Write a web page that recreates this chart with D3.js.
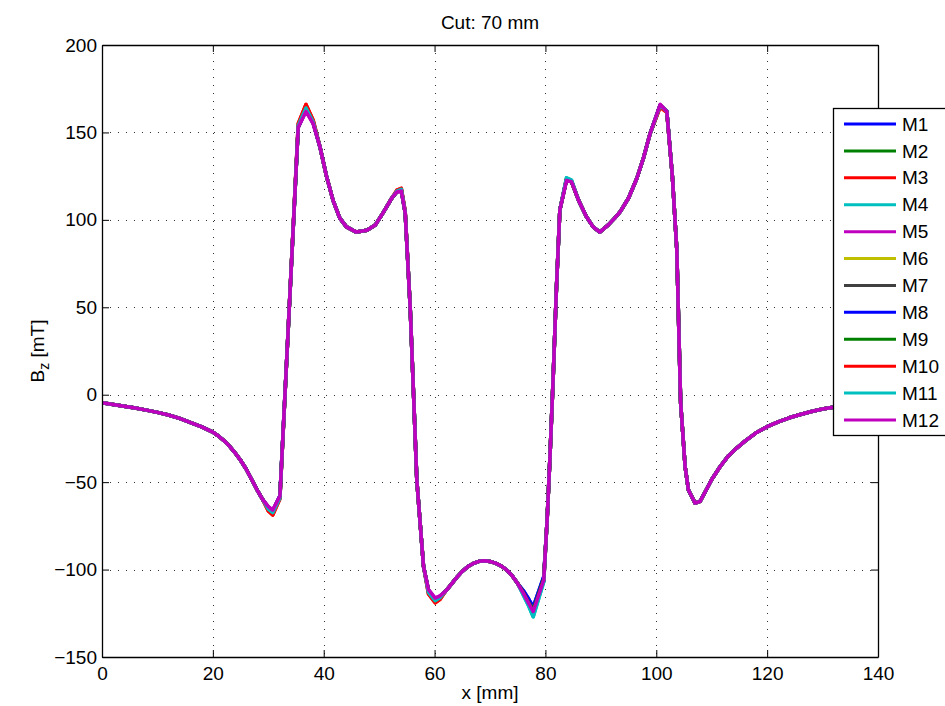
<!DOCTYPE html>
<html>
<head>
<meta charset="utf-8">
<script src="https://cdn.jsdelivr.net/npm/d3@7"></script>
<style>
  html, body { margin: 0; padding: 0; background: #fff; }
  svg { display: block; font-family: "Liberation Sans", Arial, Helvetica, sans-serif; }
</style>
</head>
<body>
<svg id="chart" width="945" height="706"></svg>
<script>
// ---------- data ----------
const titleText = "Cut: 70 mm";
const xLabel = "x [mm]";
const xTicks = [0, 20, 40, 60, 80, 100, 120, 140];
const yTicks = [-150, -100, -50, 0, 50, 100, 150, 200];
const seriesNames = ["M1","M2","M3","M4","M5","M6","M7","M8","M9","M10","M11","M12"];
const seriesColors = ["#0000ff","#008000","#ff0000","#00bfbf","#bf00bf","#bfbf00","#404040","#0000ff","#008000","#ff0000","#00bfbf","#bf00bf"];

const xMm = [0,2,4,6,8,10,12,14,16,18,20,21,22,23,24,25,26,27,28,29,30,30.8,32.1,35.4,36.8,38.1,39.3,40.5,41.7,42.9,44.1,45.9,47.8,49.3,50.7,52.3,53.2,54,54.7,55.6,56.2,56.8,58,58.9,60.1,61,62,63,64,65,66,67,68,69,70,71,72,73,74,75,76,77,77.8,79.7,80.3,80.8,81.4,82,82.6,83.8,84.7,86,87.4,88.6,89.8,91.3,92.5,93.5,95,96.5,97.7,98.9,100.7,101.9,102.9,103.7,104.4,105.2,105.8,107,107.9,109,110,111.5,113,114.5,116,118,120,122,124,126,128,130,133,136,140];

const M1  = [-4.6,-5.6,-6.6,-7.6,-8.8,-10.1,-11.6,-13.5,-15.9,-18.4,-21.4,-23.6,-26.2,-29.4,-33.2,-37.5,-42.5,-48.5,-54.5,-60,-64.5,-66.5,-58,153,163,155.5,142,125,111,101,96,93,94,97,104,112.5,116,117,104,50,1,-49,-98,-112,-117,-115.5,-112.3,-108.5,-104.5,-101,-98.3,-96.5,-95.3,-95,-95.4,-96.3,-97.9,-100.2,-103.5,-108,-112,-117,-121.5,-104,-72,-37,10,62,105.6,123,121.8,111,101.8,96,93,97,101,104.7,112.5,123.8,135.5,149.5,165.5,162,125,83,-5,-41,-54.5,-62,-61,-54.5,-48.5,-41.2,-35,-30.5,-26.5,-21.8,-18.3,-15.5,-13.2,-11.3,-9.6,-8.2,-6.6,-5.4,-4.2];
const M2  = [-4.6,-5.6,-6.6,-7.6,-8.8,-10.1,-11.6,-13.5,-15.9,-18.4,-21.4,-23.6,-26.2,-29.4,-33.2,-37.5,-42.5,-48.5,-54.5,-60,-65,-67,-58.5,153,164,156,142,125,111,101,96,93,94,97,104,112.5,116,117,104,50,1,-49,-98,-112,-117.5,-116,-112.3,-108.5,-104.5,-101,-98.3,-96.5,-95.3,-95,-95.4,-96.3,-97.9,-100.2,-103.5,-108,-113,-119,-123,-105,-72,-37,10,62,105.6,123,121.8,111,101.8,96,93,97,101,104.7,112.5,123.8,135.5,149.5,165.5,162,125,83,-5,-41,-54.5,-62,-61,-54.5,-48.5,-41.2,-35,-30.5,-26.5,-21.8,-18.3,-15.5,-13.2,-11.3,-9.6,-8.2,-6.6,-5.4,-4.2];
const M3  = [-4.6,-5.6,-6.6,-7.6,-8.8,-10.1,-11.6,-13.5,-15.9,-18.4,-21.4,-23.6,-26.2,-29.4,-33.2,-37.5,-42.5,-48.5,-54.5,-60,-66.5,-68.8,-59.5,155,166,157,142,125,111,101,96,93,94,97,104,112.5,117,118,105,50,1,-49,-98,-114,-119,-117,-112.3,-108.5,-104.5,-101,-98.3,-96.5,-95.3,-95,-95.4,-96.3,-97.9,-100.2,-103.5,-108,-113.5,-119.5,-124.5,-106,-72,-37,10,62,105.6,123.5,122.3,111,101.8,96,93,97,101,104.7,112.5,123.8,135.5,149.5,164.5,161.5,125,83,-5,-41,-54.5,-62,-61,-54.5,-48.5,-41.2,-35,-30.5,-26.5,-21.8,-18.3,-15.5,-13.2,-11.3,-9.6,-8.2,-6.6,-5.4,-4.2];
const M4  = [-4.6,-5.6,-6.6,-7.6,-8.8,-10.1,-11.6,-13.5,-15.9,-18.4,-21.4,-23.6,-26.2,-29.4,-33.2,-37.5,-42.5,-48.5,-54.5,-60,-65.5,-67.5,-59,154,164,156,142,125,111,101,96,93,94,97,104,112.5,116.5,117.5,104.5,50,1,-49,-98,-113,-117.8,-116,-112.3,-108.5,-104.5,-101,-98.3,-96.5,-95.3,-95,-95.4,-96.3,-97.9,-100.2,-103.5,-108,-114.5,-121,-127,-107,-72,-37,10,62,105.6,124,122.8,111,101.8,96,93,97,101,104.7,112.5,123.8,135.5,149.5,165.5,162,125,83,-5,-41,-54.5,-62,-61,-54.5,-48.5,-41.2,-35,-30.5,-26.5,-21.8,-18.3,-15.5,-13.2,-11.3,-9.6,-8.2,-6.6,-5.4,-4.2];
const M5  = [-4.6,-5.6,-6.6,-7.6,-8.8,-10.1,-11.6,-13.5,-15.9,-18.4,-21.4,-23.6,-26.2,-29.4,-33.2,-37.5,-42.5,-48.5,-54.5,-60,-64,-66,-58,153,162,155,142,125,111,101,96,93,94,97,104,112.5,116,116.5,104,50,1,-49,-98,-111.5,-116.3,-115,-112.3,-108.5,-104.5,-101,-98.3,-96.5,-95.3,-95,-95.4,-96.3,-97.9,-100.2,-103.5,-108,-113.5,-119.5,-124,-106,-72,-37,10,62,105.6,122.5,121.8,111,101.8,96,93,97,101,104.7,112.5,123.8,135.5,149.5,166,162,125,83,-5,-41,-54.5,-62,-61,-54.5,-48.5,-41.2,-35,-30.5,-26.5,-21.8,-18.3,-15.5,-13.2,-11.3,-9.6,-8.2,-6.6,-5.4,-4.2];
const M6  = [-4.6,-5.6,-6.6,-7.6,-8.8,-10.1,-11.6,-13.5,-15.9,-18.4,-21.4,-23.6,-26.2,-29.4,-33.2,-37.5,-42.5,-48.5,-54.5,-60,-64.5,-66.8,-58.5,153,163.5,155.5,142,125,111,101,96,93,94,97,104,112.5,116,117,104,50,1,-49,-98,-112,-117,-115.5,-112.3,-108.5,-104.5,-101,-98.3,-96.5,-95.3,-95,-95.4,-96.3,-97.9,-100.2,-103.5,-108,-113,-119,-123.5,-105.5,-72,-37,10,62,105.6,123,121.8,111,101.8,96,93,97,101,104.7,112.5,123.8,135.5,149.5,165.5,162,125,83,-5,-41,-54.5,-62,-61,-54.5,-48.5,-41.2,-35,-30.5,-26.5,-21.8,-18.3,-15.5,-13.2,-11.3,-9.6,-8.2,-6.6,-5.4,-4.2];
const M7  = [-4.6,-5.6,-6.6,-7.6,-8.8,-10.1,-11.6,-13.5,-15.9,-18.4,-21.4,-23.6,-26.2,-29.4,-33.2,-37.5,-42.5,-48.5,-54.5,-60,-64.5,-66.5,-58,153,163,155.5,142,125,111,101,96,93,94,97,104,112.5,116,117,104,50,1,-49,-98,-112,-117,-115.5,-112.3,-108.5,-104.5,-101,-98.3,-96.5,-95.3,-95,-95.4,-96.3,-97.9,-100.2,-103.5,-108,-113,-119,-123,-105,-72,-37,10,62,105.6,123,121.8,111,101.8,96,93,97,101,104.7,112.5,123.8,135.5,149.5,165.5,162,125,83,-5,-41,-54.5,-62,-61,-54.5,-48.5,-41.2,-35,-30.5,-26.5,-21.8,-18.3,-15.5,-13.2,-11.3,-9.6,-8.2,-6.6,-5.4,-4.2];
const M8  = [-4.6,-5.6,-6.6,-7.6,-8.8,-10.1,-11.6,-13.5,-15.9,-18.4,-21.4,-23.6,-26.2,-29.4,-33.2,-37.5,-42.5,-48.5,-54.5,-60,-64.5,-66.5,-58,153,163,155.5,142,125,111,101,96,93,94,97,104,112.5,116,117,104,50,1,-49,-98,-112,-117,-115.5,-112.3,-108.5,-104.5,-101,-98.3,-96.5,-95.3,-95,-95.4,-96.3,-97.9,-100.2,-103.5,-108,-112,-117,-121.5,-104,-72,-37,10,62,105.6,123,121.8,111,101.8,96,93,97,101,104.7,112.5,123.8,135.5,149.5,165.5,162,125,83,-5,-41,-54.5,-62,-61,-54.5,-48.5,-41.2,-35,-30.5,-26.5,-21.8,-18.3,-15.5,-13.2,-11.3,-9.6,-8.2,-6.6,-5.4,-4.2];
const M9  = [-4.6,-5.6,-6.6,-7.6,-8.8,-10.1,-11.6,-13.5,-15.9,-18.4,-21.4,-23.6,-26.2,-29.4,-33.2,-37.5,-42.5,-48.5,-54.5,-60,-65,-67,-58.5,153,164,156,142,125,111,101,96,93,94,97,104,112.5,116,117,104,50,1,-49,-98,-112,-117.5,-116,-112.3,-108.5,-104.5,-101,-98.3,-96.5,-95.3,-95,-95.4,-96.3,-97.9,-100.2,-103.5,-108,-113,-119,-123,-105,-72,-37,10,62,105.6,123,121.8,111,101.8,96,93,97,101,104.7,112.5,123.8,135.5,149.5,165.5,162,125,83,-5,-41,-54.5,-62,-61,-54.5,-48.5,-41.2,-35,-30.5,-26.5,-21.8,-18.3,-15.5,-13.2,-11.3,-9.6,-8.2,-6.6,-5.4,-4.2];
const M10 = [-4.6,-5.6,-6.6,-7.6,-8.8,-10.1,-11.6,-13.5,-15.9,-18.4,-21.4,-23.6,-26.2,-29.4,-33.2,-37.5,-42.5,-48.5,-54.5,-60,-66.5,-68.8,-59.5,155,166,157,142,125,111,101,96,93,94,97,104,112.5,117,118,105,50,1,-49,-98,-114,-119,-117,-112.3,-108.5,-104.5,-101,-98.3,-96.5,-95.3,-95,-95.4,-96.3,-97.9,-100.2,-103.5,-108,-113.5,-119.5,-124.5,-106,-72,-37,10,62,105.6,123.5,122.3,111,101.8,96,93,97,101,104.7,112.5,123.8,135.5,149.5,164.5,161.5,125,83,-5,-41,-54.5,-62,-61,-54.5,-48.5,-41.2,-35,-30.5,-26.5,-21.8,-18.3,-15.5,-13.2,-11.3,-9.6,-8.2,-6.6,-5.4,-4.2];
const M11 = [-4.6,-5.6,-6.6,-7.6,-8.8,-10.1,-11.6,-13.5,-15.9,-18.4,-21.4,-23.6,-26.2,-29.4,-33.2,-37.5,-42.5,-48.5,-54.5,-60,-65.5,-67.5,-59,154,164,156,142,125,111,101,96,93,94,97,104,112.5,116.5,117.5,104.5,50,1,-49,-98,-113,-117.8,-116,-112.3,-108.5,-104.5,-101,-98.3,-96.5,-95.3,-95,-95.4,-96.3,-97.9,-100.2,-103.5,-108,-114.5,-121,-127,-107,-72,-37,10,62,105.6,124,122.8,111,101.8,96,93,97,101,104.7,112.5,123.8,135.5,149.5,165.5,162,125,83,-5,-41,-54.5,-62,-61,-54.5,-48.5,-41.2,-35,-30.5,-26.5,-21.8,-18.3,-15.5,-13.2,-11.3,-9.6,-8.2,-6.6,-5.4,-4.2];
const M12 = [-4.6,-5.6,-6.6,-7.6,-8.8,-10.1,-11.6,-13.5,-15.9,-18.4,-21.4,-23.6,-26.2,-29.4,-33.2,-37.5,-42.5,-48.5,-54.5,-60,-64,-66,-58,153,162,155,142,125,111,101,96,93,94,97,104,112.5,116,116.5,104,50,1,-49,-98,-111.5,-116.3,-115,-112.3,-108.5,-104.5,-101,-98.3,-96.5,-95.3,-95,-95.4,-96.3,-97.9,-100.2,-103.5,-108,-113.5,-119.5,-124,-106,-72,-37,10,62,105.6,122.5,121.8,111,101.8,96,93,97,101,104.7,112.5,123.8,135.5,149.5,166,162,125,83,-5,-41,-54.5,-62,-61,-54.5,-48.5,-41.2,-35,-30.5,-26.5,-21.8,-18.3,-15.5,-13.2,-11.3,-9.6,-8.2,-6.6,-5.4,-4.2];

const seriesValues = [M1,M2,M3,M4,M5,M6,M7,M8,M9,M10,M11,M12];

// ---------- layout ----------
const svg = d3.select("#chart");
const plot = { left: 102, right: 878, top: 45, bottom: 657 };
const fontSize = 19;

const x = d3.scaleLinear().domain([0, 140]).range([plot.left, plot.right]);
const y = d3.scaleLinear().domain([-150, 200]).range([plot.bottom, plot.top]);

svg.append("rect").attr("x", 0).attr("y", 0).attr("width", 945).attr("height", 706).attr("fill", "#fff");

// grid
const grid = svg.append("g").attr("stroke", "#333").attr("stroke-width", 1).attr("stroke-dasharray", "1,7").attr("shape-rendering", "crispEdges");
xTicks.slice(1, -1).forEach(t => {
  grid.append("line").attr("x1", Math.round(x(t)) + 0.5).attr("x2", Math.round(x(t)) + 0.5)
    .attr("y1", plot.top).attr("y2", plot.bottom);
});
yTicks.slice(1, -1).forEach(t => {
  grid.append("line").attr("y1", Math.round(y(t)) + 0.5).attr("y2", Math.round(y(t)) + 0.5)
    .attr("x1", plot.left).attr("x2", plot.right);
});

// lines
svg.append("clipPath").attr("id", "plotclip").append("rect")
  .attr("x", plot.left).attr("y", plot.top).attr("width", plot.right - plot.left).attr("height", plot.bottom - plot.top);
const lineGen = d3.line().x((d, i) => x(xMm[i])).y(d => y(d));
const linesG = svg.append("g").attr("clip-path", "url(#plotclip)");
seriesValues.forEach((vals, i) => {
  linesG.append("path").datum(vals).attr("d", lineGen)
    .attr("fill", "none").attr("stroke", seriesColors[i]).attr("stroke-width", 3.5)
    .attr("stroke-linejoin", "round");
});

// axes (box with inward ticks)
const tickLen = 7;
const axB = svg.append("g").attr("transform", `translate(0,${plot.bottom})`)
  .call(d3.axisBottom(x).tickValues(xTicks).tickSizeInner(-tickLen).tickSizeOuter(0).tickPadding(10));
const axT = svg.append("g").attr("transform", `translate(0,${plot.top})`)
  .call(d3.axisTop(x).tickValues(xTicks).tickSizeInner(-tickLen).tickSizeOuter(0).tickFormat(""));
const axL = svg.append("g").attr("transform", `translate(${plot.left},0)`)
  .call(d3.axisLeft(y).tickValues(yTicks).tickSizeInner(-tickLen).tickSizeOuter(0).tickPadding(5)
    .tickFormat(d => d < 0 ? "\u2212" + Math.abs(d) : String(d)));
const axR = svg.append("g").attr("transform", `translate(${plot.right},0)`)
  .call(d3.axisRight(y).tickValues(yTicks).tickSizeInner(-tickLen).tickSizeOuter(0).tickFormat(""));
[axB, axT, axL, axR].forEach(a => {
  a.selectAll(".domain").attr("stroke", "#000").attr("stroke-width", 1.3);
  a.selectAll(".tick line").attr("stroke", "#000").attr("stroke-width", 1);
  a.selectAll("text").attr("font-size", fontSize).attr("fill", "#000")
    .attr("font-family", "'Liberation Sans', Arial, sans-serif");
});

// title & labels
svg.append("text").attr("x", (plot.left + plot.right) / 2).attr("y", 29)
  .attr("text-anchor", "middle").attr("font-size", fontSize).text(titleText);
svg.append("text").attr("x", (plot.left + plot.right) / 2).attr("y", 699)
  .attr("text-anchor", "middle").attr("font-size", fontSize).text(xLabel);
const yl = svg.append("text").attr("transform", `translate(44,${(plot.top + plot.bottom) / 2}) rotate(-90)`)
  .attr("text-anchor", "middle").attr("font-size", fontSize);
yl.append("tspan").text("B");
yl.append("tspan").attr("font-size", 14).attr("dy", 5).text("z");
yl.append("tspan").attr("dy", -5).text(" [mT]");

// legend
const leg = { left: 833, top: 108, right: 952, bottom: 435 };
svg.append("rect").attr("x", leg.left + 0.5).attr("y", leg.top + 0.5)
  .attr("width", leg.right - leg.left).attr("height", leg.bottom - leg.top)
  .attr("fill", "#fff").attr("stroke", "#000").attr("stroke-width", 1.3);
const rowY = d3.scaleLinear().domain([0, seriesNames.length - 1]).range([124, 420]);
seriesNames.forEach((name, i) => {
  svg.append("line").attr("x1", 844).attr("x2", 896).attr("y1", rowY(i)).attr("y2", rowY(i))
    .attr("stroke", seriesColors[i]).attr("stroke-width", 3);
  svg.append("text").attr("x", 902).attr("y", rowY(i)).attr("dy", "0.35em")
    .attr("font-size", fontSize).text(name);
});
</script>
</body>
</html>
